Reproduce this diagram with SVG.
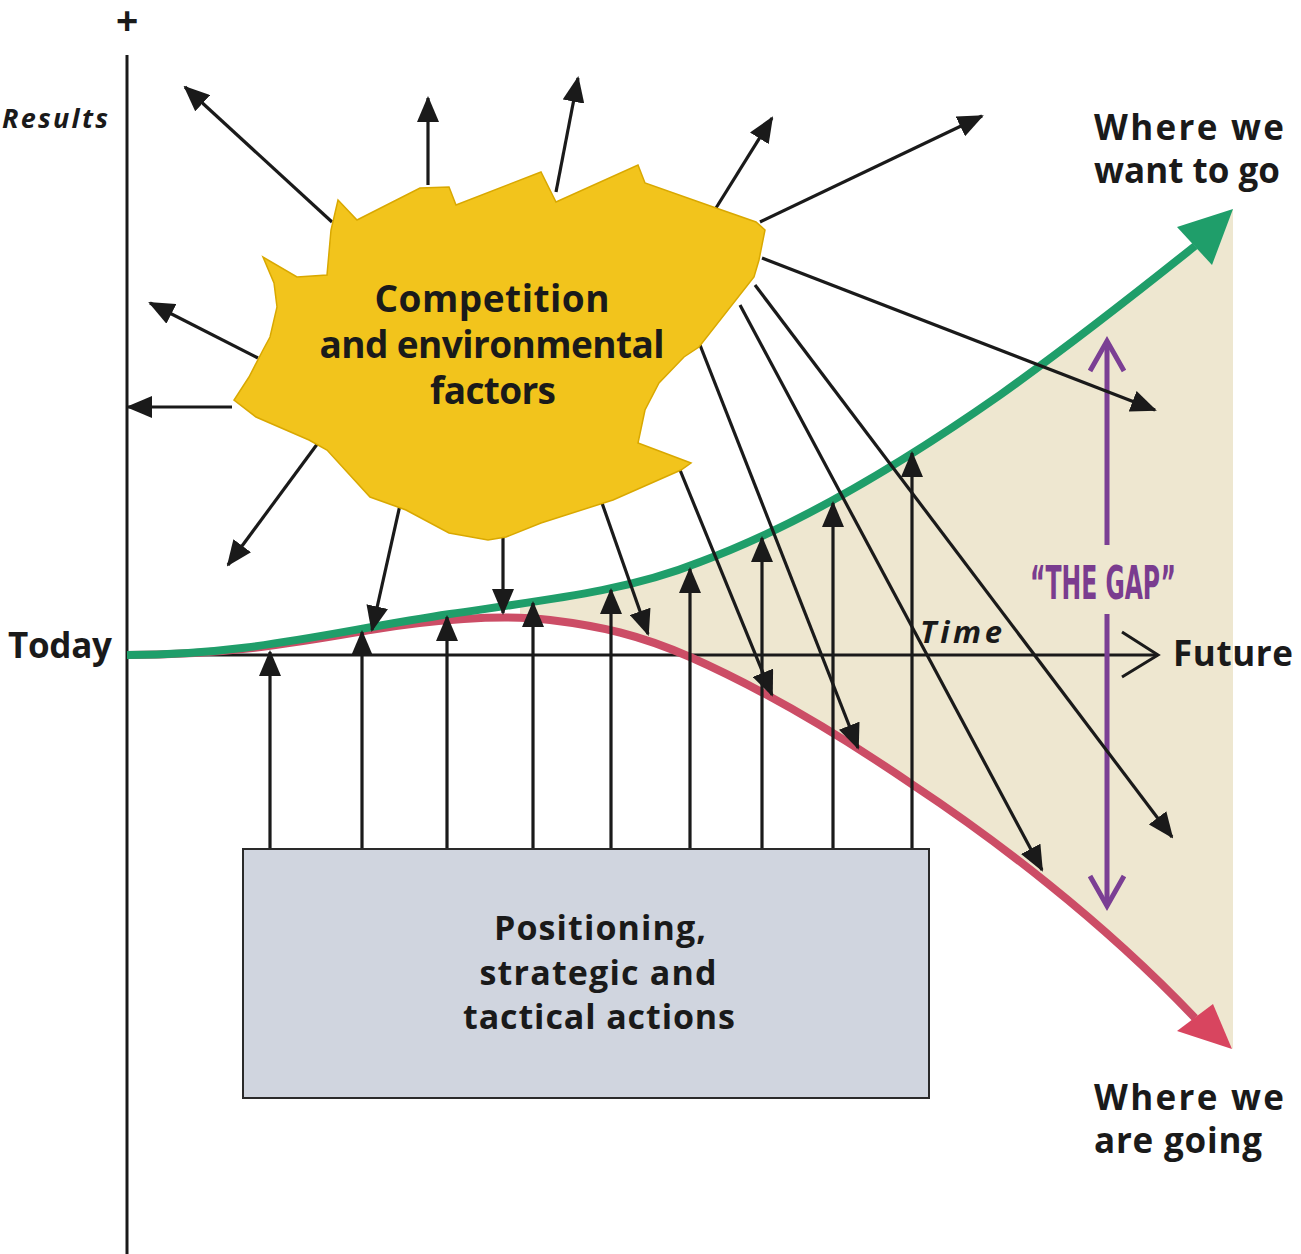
<svg xmlns="http://www.w3.org/2000/svg" width="1301" height="1254" viewBox="0 0 1301 1254">
<style>
.lbl{font-family:"Open Sans","Liberation Sans",sans-serif;font-weight:700;fill:#1a1a1a}
.it{font-style:italic}
.arr{stroke:#1a1a1a;stroke-width:3.2;fill:none;marker-end:url(#ah)}
.axis{stroke:#1a1a1a;stroke-width:3;fill:none}
.gap{stroke:#7b3f94;stroke-width:5;fill:none}
</style>
<defs>
<marker id="ah" viewBox="0 0 26 22" refX="24" refY="11" markerWidth="26" markerHeight="22" markerUnits="userSpaceOnUse" orient="auto">
<path d="M0,0 L26,11 L0,22 z" fill="#1a1a1a"/>
</marker>
<clipPath id="clipGap"><rect x="520" y="0" width="781" height="1254"/></clipPath>
</defs>
<rect width="1301" height="1254" fill="#ffffff"/>

<g id="gap-region" clip-path="url(#clipGap)">
<path d="M127,655 C250,655 330,632 450,614 C560,598 630,590 700,562 C800,525 900,465 1000,395 C1070,345 1140,290 1195,246 L1233,209 L1233,1049 L1195,1018 C1100,918 990,836 913,785 C840,735 760,688 690,657 C640,635 600,626 550,620 C500,614 430,620 370,630 C300,642 230,655 127,655 Z" fill="#eee7d0"/>
</g>

<g id="axes">
<line class="axis" x1="127" y1="55" x2="127" y2="1254"/>
<line class="axis" x1="127" y1="655" x2="1158" y2="655"/>
<path class="axis" d="M1122,632 L1158,655 L1122,677"/>
</g>

<g id="curve-going">
<path d="M127,655 C230,655 300,642 370,630 C430,620 500,614 550,620 C600,626 640,635 690,657 C760,688 840,735 913,785 C990,836 1100,918 1195,1018" fill="none" stroke="#cc4d66" stroke-width="8"/>
<polygon points="1232,1049 1177,1031 1213,1004" fill="#d8455f"/>
</g>

<g id="curve-want">
<path d="M127,655 C250,655 330,632 450,614 C560,598 630,590 700,562 C800,525 900,465 1000,395 C1070,345 1140,290 1195,246" fill="none" stroke="#1f9e6a" stroke-width="8"/>
<polygon points="1233,209 1177,227 1212,265" fill="#1f9e6a"/>
</g>

<g id="gap-arrow">
<line class="gap" x1="1107" y1="341" x2="1107" y2="545"/>
<line class="gap" x1="1107" y1="614" x2="1107" y2="906"/>
<path class="gap" d="M1090,371 L1107,341 L1124,371"/>
<path class="gap" d="M1090,876 L1107,906 L1124,876"/>
<text transform="translate(1103,599) scale(0.5,1)" x="0" y="0" text-anchor="middle" font-family="'DejaVu Sans',sans-serif" font-weight="700" font-size="47" fill="#7a3c8f">“THE GAP”</text>
</g>

<g id="connectors">
<line class="arr" x1="332" y1="222" x2="185" y2="87"/>
<line class="arr" x1="428" y1="185" x2="428" y2="98"/>
<line class="arr" x1="556" y1="192" x2="578" y2="78"/>
<line class="arr" x1="716" y1="208" x2="772" y2="118"/>
<line class="arr" x1="760" y1="222" x2="982" y2="116"/>
<line class="arr" x1="258" y1="358" x2="150" y2="303"/>
<line class="arr" x1="232" y1="407" x2="128" y2="407"/>
<line class="arr" x1="318" y1="443" x2="228" y2="565"/>
<line class="arr" x1="400" y1="505" x2="372" y2="630"/>
<line class="arr" x1="503" y1="535" x2="503" y2="613"/>
<line class="arr" x1="602" y1="503" x2="648" y2="634"/>
<line class="arr" x1="680" y1="470" x2="772" y2="695"/>
<line class="arr" x1="700" y1="345" x2="858" y2="748"/>
<line class="arr" x1="740" y1="305" x2="1042" y2="870"/>
<line class="arr" x1="755" y1="285" x2="1172" y2="837"/>
<line class="arr" x1="762" y1="258" x2="1155" y2="410"/>
<line class="arr" x1="270" y1="850" x2="270" y2="652"/>
<line class="arr" x1="362" y1="850" x2="362" y2="632"/>
<line class="arr" x1="447" y1="850" x2="447" y2="617"/>
<line class="arr" x1="533" y1="850" x2="533" y2="603"/>
<line class="arr" x1="611" y1="850" x2="611" y2="590"/>
<line class="arr" x1="690" y1="850" x2="690" y2="569"/>
<line class="arr" x1="762" y1="850" x2="762" y2="538"/>
<line class="arr" x1="833" y1="850" x2="833" y2="503"/>
<line class="arr" x1="912" y1="850" x2="912" y2="453"/>
</g>

<g id="sun">
<polygon points="338,200 357,220 420,188 449,187 456,205 541,172 556,202 638,165 645,183 716,208 756,222 765,230 759,260 754,277 699,347 684,357 659,383 645,410 638,443 691,463 681,470 613,500 541,523 506,537 488,540 449,533 406,510 370,497 327,450 309,440 256,417 234,400 249,377 263,350 270,337 277,307 274,283 263,257 297,277 327,275 331,230" fill="#f2c41c" stroke="#d9a800" stroke-width="1.5" stroke-linejoin="miter"/>
<text class="lbl" x="492" y="312" text-anchor="middle" font-size="37" fill="#2b1d0c" textLength="235">Competition</text>
<text class="lbl" x="492" y="358" text-anchor="middle" font-size="37" fill="#2b1d0c" textLength="345">and environmental</text>
<text class="lbl" x="493" y="404" text-anchor="middle" font-size="37" fill="#2b1d0c" textLength="126">factors</text>
</g>

<g id="actions-box">
<rect x="243" y="849" width="686" height="249" fill="#d0d5df" stroke="#2a2a2a" stroke-width="2"/>
<text class="lbl" x="600" y="940" text-anchor="middle" font-size="34" textLength="212">Positioning,</text>
<text class="lbl" x="598" y="985" text-anchor="middle" font-size="34" textLength="237">strategic and</text>
<text class="lbl" x="599" y="1029" text-anchor="middle" font-size="34" textLength="272">tactical actions</text>
</g>

<g id="labels">
<text x="127" y="34" text-anchor="middle" font-family="'Liberation Sans',sans-serif" font-weight="700" font-size="38" fill="#1a1a1a">+</text>
<text class="lbl it" x="2" y="128" font-size="27" textLength="106">Results</text>
<text class="lbl" x="8" y="658" font-size="35" textLength="104">Today</text>
<text class="lbl it" x="920" y="643" font-size="31" font-weight="600" textLength="82">Time</text>
<text class="lbl" x="1173" y="666" font-size="35" textLength="120">Future</text>
<text class="lbl" x="1094" y="140" font-size="35" textLength="190">Where we</text>
<text class="lbl" x="1094" y="183" font-size="35" textLength="186">want to go</text>
<text class="lbl" x="1094" y="1110" font-size="35" textLength="190">Where we</text>
<text class="lbl" x="1094" y="1153" font-size="35" textLength="168">are going</text>
</g>
</svg>
